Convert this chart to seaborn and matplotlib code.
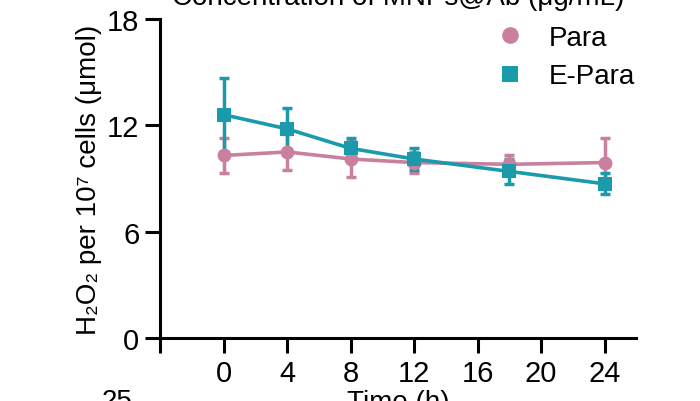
import matplotlib
matplotlib.use("Agg")
import matplotlib.pyplot as plt
import seaborn as sns
import pandas as pd

times = [0, 4, 8, 12, 18, 24]
para_mean = [10.3, 10.5, 10.1, 9.9, 9.8, 9.9]
para_err = [1.0, 1.0, 1.0, 0.6, 0.5, 1.4]
epara_mean = [12.6, 11.8, 10.7, 10.1, 9.4, 8.7]
epara_err = [2.1, 1.2, 0.6, 0.6, 0.7, 0.6]
xticks = [-4, 0, 4, 8, 12, 16, 20, 24]
xticklabels = ["", "0", "4", "8", "12", "16", "20", "24"]
yticks = [0, 6, 12, 18]

plt.rcParams["font.family"] = ["Liberation Sans", "DejaVu Sans"]
fig = plt.figure(figsize=(7, 4.02), dpi=100)
ax = fig.add_axes([0.229, 0.157, 0.68, 0.793])

pink = "#C9809F"
teal = "#1A9AAB"
df = pd.concat([
    pd.DataFrame({"t": times, "v": para_mean, "e": para_err, "g": "Para"}),
    pd.DataFrame({"t": times, "v": epara_mean, "e": epara_err, "g": "E-Para"}),
])
for g, c in [("Para", pink), ("E-Para", teal)]:
    d = df[df.g == g]
    ax.errorbar(d.t, d.v, yerr=d.e, fmt="none", ecolor=c, elinewidth=2.5, capsize=3.5, capthick=2.5, zorder=2)
sns.lineplot(data=df, x="t", y="v", hue="g", style="g", palette={"Para": pink, "E-Para": teal},
             markers={"Para": "o", "E-Para": "s"}, dashes=False, linewidth=2.6, markersize=10,
             markeredgewidth=0, ax=ax, zorder=3)

ax.set_xlim(-4, 26)
ax.set_ylim(0, 18)
ax.set_xticks(xticks)
ax.set_xticklabels(xticklabels)
ax.set_yticks(yticks)
for s in ["top", "right"]:
    ax.spines[s].set_visible(False)
for s in ["left", "bottom"]:
    ax.spines[s].set_linewidth(2.2)
ax.tick_params(axis="both", width=2.2, length=11, labelsize=21, pad=4)
ax.set_xlabel("Time (h)", fontsize=20, labelpad=2)
ax.set_ylabel("H₂O₂ per 10⁷ cells (μmol)", fontsize=20)
ax.set_title("Concentration of MNPs@Ab (μg/mL)", fontsize=20, y=1.02)
leg = ax.legend(title=None, frameon=False, fontsize=20, loc="upper right",
                bbox_to_anchor=(1.05, 1.06), handletextpad=0.4, labelspacing=0.45, markerscale=1.2)
for h in leg.legend_handles:
    h.set_linestyle("None")
fig.text(0.145, 0.0, "25", fontsize=20, va="center")
fig.savefig("out.png", dpi=100)
